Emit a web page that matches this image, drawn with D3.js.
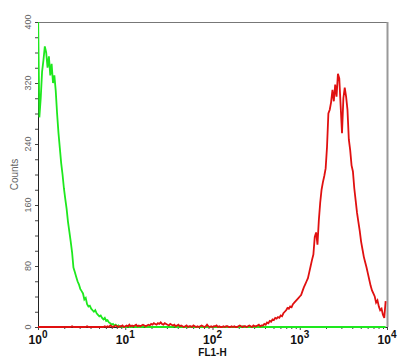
<!DOCTYPE html>
<html>
<head>
<meta charset="utf-8">
<script src="https://cdn.jsdelivr.net/npm/d3@7"></script>
<style>
  body { margin: 0; background: #fff; }
  svg { display: block; }
</style>
</head>
<body>
<div id="chart"></div>
<script>
// histogram counts per channel (256 log channels across 4 decades)
const greenCounts = [
  420, 275, 300, 335, 350, 368, 360, 340, 355, 330, 345, 320, 330, 310, 280, 255,
  235, 215, 200, 182, 168, 155, 138, 125, 112, 98, 78, 72, 66, 60, 56, 50,
  47, 44, 36, 38, 30, 27, 28, 24, 22, 20, 22, 18, 16, 14, 15, 12,
  10, 12, 8, 9, 6, 5, 3, 4, 2, 3, 1, 2, 0, 1, 0, 0,
  0, 0, 1, 0, 0, 0, 1, 0, 0, 0, 0, 0, 0, 0, 1, 0,
  0, 0, 0, 0, 0, 0, 0, 0, 0, 0, 0, 0, 0, 0, 0, 0,
  0, 0, 0, 0, 1, 0, 0, 0, 0, 0, 0, 0, 0, 0, 0, 0,
  0, 0, 0, 0, 0, 0, 0, 0, 0, 0, 0, 0, 0, 0, 0, 0,
  0, 0, 0, 0, 0, 0, 0, 0, 0, 0, 0, 0, 0, 0, 0, 0,
  0, 0, 0, 0, 0, 0, 1, 0, 0, 0, 0, 0, 0, 0, 0, 0,
  0, 0, 0, 0, 0, 0, 0, 0, 0, 0, 0, 0, 0, 0, 0, 0,
  0, 0, 0, 0, 0, 0, 0, 0, 0, 0, 0, 0, 0, 0, 0, 0,
  0, 0, 0, 0, 0, 0, 0, 0, 0, 0, 0, 0, 0, 0, 0, 0,
  0, 0, 0, 0, 0, 0, 0, 0, 0, 0, 0, 0, 0, 0, 0, 0,
  0, 0, 0, 0, 0, 0, 0, 0, 0, 0, 0, 0, 0, 0, 0, 0,
  0, 0, 0, 0, 0, 0, 0, 0, 0, 0, 0, 0, 0, 0, 0, 0
];

const redCounts = [
  0, 0, 0, 0, 0, 0, 0, 0, 0, 0, 0, 0, 0, 0, 0, 0,
  0, 0, 0, 0, 0, 0, 0, 0, 0, 1, 0, 0, 0, 0, 0, 0,
  0, 0, 0, 0, 1, 0, 0, 0, 0, 0, 0, 0, 0, 0, 0, 0,
  0, 1, 0, 1, 0, 2, 1, 0, 1, 2, 1, 0, 1, 1, 2, 0,
  1, 2, 1, 3, 1, 2, 1, 2, 3, 1, 2, 1, 2, 3, 2, 1,
  2, 3, 2, 4, 3, 5, 4, 3, 5, 4, 6, 4, 3, 5, 4, 3,
  2, 4, 3, 2, 3, 1, 2, 3, 1, 2, 1, 0, 1, 2, 0, 1,
  1, 0, 2, 1, 0, 1, 0, 1, 2, 1, 0, 1, 3, 1, 0, 1,
  0, 1, 1, 2, 0, 1, 0, 0, 1, 0, 1, 1, 0, 0, 1, 0,
  1, 0, 0, 1, 2, 1, 0, 1, 1, 0, 1, 2, 1, 0, 2, 1,
  1, 2, 3, 1, 2, 2, 4, 3, 6, 5, 8, 7, 10, 9, 12, 11,
  13, 12, 15, 14, 18, 20, 22, 25, 24, 27, 26, 30, 32, 34, 36, 38,
  40, 42, 47, 52, 56, 60, 64, 72, 80, 88, 95, 118, 124, 108, 140, 163,
  180, 190, 198, 208, 236, 280, 285, 295, 311, 296, 318, 302, 332, 326, 290, 254,
  300, 314, 302, 285, 246, 232, 212, 204, 182, 166, 150, 138, 126, 112, 102, 92,
  85, 78, 70, 62, 54, 48, 44, 40, 32, 35, 27, 22, 24, 16, 12, 34
];

const yTicks = [0, 20, 40, 60, 80, 100, 120, 140, 160, 180, 200, 220, 240, 260, 280, 300, 320, 340, 360, 380, 400];
const yLabels = [0, 80, 160, 240, 320, 400];
const decades = [0, 1, 2, 3, 4];

const width = 409;
const height = 364;
const plot = { left: 38, right: 387, top: 22, bottom: 327 };

const svg = d3.select("#chart")
  .append("svg")
  .attr("width", width)
  .attr("height", height);

const x = d3.scaleLog()
  .domain([1, 1e4])
  .range([plot.left, plot.right]);

const y = d3.scaleLinear()
  .domain([0, 400])
  .range([plot.bottom, plot.top]);

// channel -> fluorescence value
const chanValue = i => Math.pow(10, i * 4 / 256);

svg.append("clipPath")
  .attr("id", "clip")
  .append("rect")
  .attr("x", plot.left)
  .attr("y", plot.top)
  .attr("width", plot.right - plot.left + 2)
  .attr("height", plot.bottom - plot.top + 1);

// top and right frame (gray)
svg.append("line")
  .attr("x1", plot.left).attr("x2", plot.right)
  .attr("y1", plot.top + 0.5).attr("y2", plot.top + 0.5)
  .attr("stroke", "#777").attr("stroke-width", 1);
svg.append("line")
  .attr("x1", plot.right + 0.5).attr("x2", plot.right + 0.5)
  .attr("y1", plot.top).attr("y2", plot.bottom)
  .attr("stroke", "#999").attr("stroke-width", 2);

// y axis
const yAxis = svg.append("g")
  .attr("transform", `translate(${plot.left},0)`)
  .call(d3.axisLeft(y).tickValues(yTicks).tickSize(3).tickSizeOuter(0).tickFormat(""));
yAxis.select(".domain").attr("stroke", "#222");
yAxis.selectAll(".tick line").attr("stroke", "#444");

svg.selectAll(".ylab")
  .data(yLabels)
  .enter().append("text")
  .attr("class", "ylab")
  .attr("transform", d => `translate(31,${y(d)}) rotate(-90)`)
  .attr("text-anchor", "middle")
  .attr("font-family", "Arial, 'Liberation Sans', sans-serif")
  .attr("font-size", 9)
  .attr("fill", "#666")
  .text(d => d);

svg.append("text")
  .attr("transform", `translate(18,${(plot.top + plot.bottom) / 2}) rotate(-90)`)
  .attr("text-anchor", "middle")
  .attr("font-family", "Arial, 'Liberation Sans', sans-serif")
  .attr("font-size", 10)
  .attr("fill", "#666")
  .text("Counts");

// x axis
const xTickVals = [];
decades.forEach(p => {
  for (let m = 1; m <= 9; m++) {
    const v = m * Math.pow(10, p);
    if (v <= 1e4) xTickVals.push(v);
  }
});

const xAxis = svg.append("g")
  .attr("transform", `translate(0,${plot.bottom})`)
  .call(d3.axisBottom(x).tickValues(xTickVals).tickSize(2).tickSizeOuter(0).tickFormat(""));
xAxis.select(".domain").attr("stroke", "#222");
xAxis.selectAll(".tick line")
  .attr("stroke", "#444")
  .attr("y2", d => (Math.log10(d) % 1 === 0 ? 3 : 2));

const xlab = svg.selectAll(".xlab")
  .data(decades)
  .enter().append("text")
  .attr("class", "xlab")
  .attr("x", d => x(Math.pow(10, d)))
  .attr("y", 344)
  .attr("text-anchor", "middle")
  .attr("font-family", "Arial, 'Liberation Sans', sans-serif")
  .attr("font-weight", "bold")
  .attr("fill", "#111");
xlab.append("tspan").attr("font-size", 12).text("10");
xlab.append("tspan").attr("font-size", 10).attr("dy", -6).text(d => d);

svg.append("text")
  .attr("x", (plot.left + plot.right) / 2)
  .attr("y", 356)
  .attr("text-anchor", "middle")
  .attr("font-family", "Arial, 'Liberation Sans', sans-serif")
  .attr("font-weight", "bold")
  .attr("font-size", 10)
  .attr("fill", "#111")
  .text("FL1-H");

// histograms
const line = d3.line()
  .x((d, i) => x(chanValue(i)))
  .y(d => y(d));

const plots = svg.append("g").attr("clip-path", "url(#clip)");

plots.append("path")
  .datum(greenCounts)
  .attr("d", line)
  .attr("fill", "none")
  .attr("stroke", "#1ee81e")
  .attr("stroke-width", 1.8);

plots.append("path")
  .datum(redCounts)
  .attr("d", line)
  .attr("fill", "none")
  .attr("stroke", "#e01010")
  .attr("stroke-width", 1.8);
</script>
</body>
</html>
